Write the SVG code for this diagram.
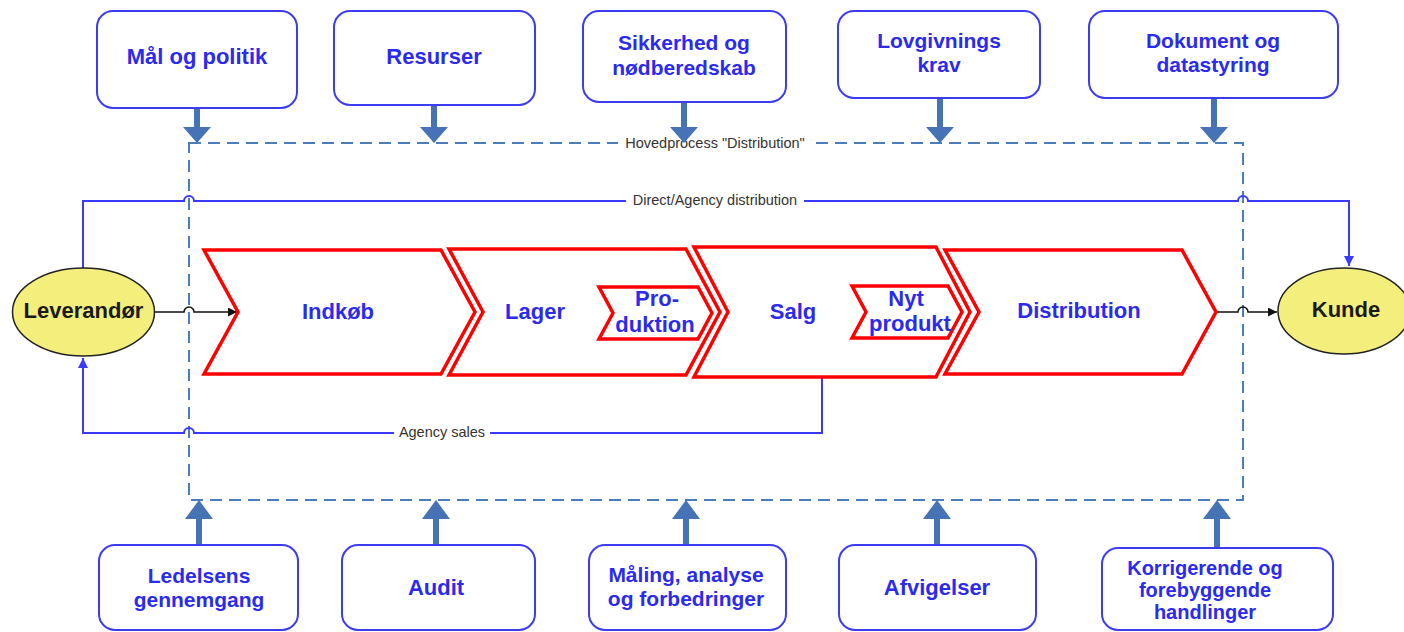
<svg xmlns="http://www.w3.org/2000/svg" width="1404" height="632" viewBox="0 0 1404 632">
<style>
.box{fill:#fff;stroke:#3c3cf5;stroke-width:2}
.bt{font-family:"Liberation Sans",Arial,sans-serif;font-weight:bold;font-size:22px;fill:#2a2af0;text-anchor:middle}
.b2{font-size:21px}
.chev{fill:#fff;stroke:#ff0000;stroke-width:3.5;stroke-linejoin:miter}
.ell{fill:#f4ef7c;stroke:#222;stroke-width:1.5}
.et{font-family:"Liberation Sans",Arial,sans-serif;font-weight:bold;font-size:22px;fill:#1a1a1a;text-anchor:middle}
.dash{fill:none;stroke:#4a7dbc;stroke-width:2;stroke-dasharray:12 7}
.fat{fill:#4672b6}
.cb{fill:none;stroke:#3a3aff;stroke-width:2}
.ck{fill:none;stroke:#111;stroke-width:1.5}
.lbl{font-family:"Liberation Sans",Arial,sans-serif;font-size:14.5px;fill:#333;text-anchor:middle}
</style>
<defs>
<marker id="ab" viewBox="0 0 10 10" refX="10" refY="5" markerWidth="5" markerHeight="5" orient="auto" markerUnits="strokeWidth"><path d="M0,0 L10,5 L0,10 z" fill="#3a3aff"/></marker>
<marker id="ak" viewBox="0 0 10 10" refX="10" refY="5" markerWidth="6" markerHeight="6" orient="auto" markerUnits="strokeWidth"><path d="M0,0 L10,5 L0,10 z" fill="#111"/></marker>
</defs>
<rect width="1404" height="632" fill="#fff"/>

<g id="process-frame">
<rect class="dash" x="189" y="143" width="1054" height="357"/>
<rect x="618" y="134" width="194" height="18" fill="#fff"/>
<text class="lbl" x="715" y="148">Hovedprocess "Distribution"</text>
</g>

<g id="connectors">
<path class="cb" d="M83,268 V201 H184 A5,5 0 0 1 194,201 H1238 A5,5 0 0 1 1248,201 H1349 V266" marker-end="url(#ab)"/>
<rect x="626" y="192" width="178" height="18" fill="#fff"/>
<text class="lbl" x="715" y="205">Direct/Agency distribution</text>
<path class="cb" d="M822,377 V433 H194 A5,5 0 0 0 184,433 H83 V358" marker-end="url(#ab)"/>
<rect x="394" y="424" width="96" height="18" fill="#fff"/>
<text class="lbl" x="442" y="437">Agency sales</text>
<path class="ck" d="M155,312 H184 A5,5 0 0 1 194,312 H237" marker-end="url(#ak)"/>
<path class="ck" d="M1216,312 H1238 A5,5 0 0 1 1248,312 H1277" marker-end="url(#ak)"/>
<path class="fat" d="M194,108 h6 v19 h11 l-14,16 l-14,-16 h11 z"/>
<path class="fat" d="M431,105 h6 v22 h11 l-14,16 l-14,-16 h11 z"/>
<path class="fat" d="M681,102 h6 v25 h11 l-14,16 l-14,-16 h11 z"/>
<path class="fat" d="M937,98 h6 v29 h11 l-14,16 l-14,-16 h11 z"/>
<path class="fat" d="M1211,98 h6 v29 h11 l-14,16 l-14,-16 h11 z"/>
<path class="fat" d="M196,545 h6 v-26 h11 l-14,-19 l-14,19 h11 z"/>
<path class="fat" d="M433,545 h6 v-26 h11 l-14,-19 l-14,19 h11 z"/>
<path class="fat" d="M683,545 h6 v-26 h11 l-14,-19 l-14,19 h11 z"/>
<path class="fat" d="M934,545 h6 v-26 h11 l-14,-19 l-14,19 h11 z"/>
<path class="fat" d="M1214,548 h6 v-29 h11 l-14,-19 l-14,19 h11 z"/>
</g>

<g id="maal-og-politik"><rect class="box" x="97" y="11" width="200" height="97" rx="16"/><text class="bt" x="197" y="64">Mål og politik</text></g>
<g id="resurser"><rect class="box" x="334" y="11" width="201" height="94" rx="16"/><text class="bt" x="434" y="64">Resurser</text></g>
<g id="sikkerhed"><rect class="box" x="583" y="11" width="203" height="91" rx="16"/><text class="bt b2" x="684" y="50">Sikkerhed og</text><text class="bt b2" x="684" y="75">nødberedskab</text></g>
<g id="lovgivning"><rect class="box" x="838" y="11" width="202" height="87" rx="16"/><text class="bt b2" x="939" y="48">Lovgivnings</text><text class="bt b2" x="939" y="72">krav</text></g>
<g id="dokument"><rect class="box" x="1089" y="11" width="249" height="87" rx="16"/><text class="bt b2" x="1213" y="48">Dokument og</text><text class="bt b2" x="1213" y="72">datastyring</text></g>

<g id="leverandor"><ellipse class="ell" cx="83.5" cy="312" rx="71" ry="44"/><text class="et" x="83.5" y="318">Leverandør</text></g>
<g id="kunde"><ellipse class="ell" cx="1344" cy="311" rx="66" ry="43"/><text class="et" x="1346" y="317">Kunde</text></g>

<g id="indkob"><polygon class="chev" points="204,250 441,250 475,312 441,374 204,374 238,312"/><text class="bt" x="338" y="319">Indkøb</text></g>
<g id="lager"><polygon class="chev" points="449,249 686,249 720,312 686,375 449,375 483,312"/><text class="bt" x="535" y="319">Lager</text></g>
<g id="produktion"><polygon class="chev" points="599,287 698,287 712,313 698,339 599,339 613,313"/><text class="bt" x="657" y="306">Pro-</text><text class="bt" x="655" y="332">duktion</text></g>
<g id="salg"><polygon class="chev" points="694,247 936,247 970,312 936,377 694,377 728,312"/><text class="bt" x="793" y="319">Salg</text></g>
<g id="nyt-produkt"><polygon class="chev" points="852,286 948,286 962,312 948,338 852,338 866,312"/><text class="bt" x="906" y="306">Nyt</text><text class="bt" x="910" y="331">produkt</text></g>
<g id="distribution"><polygon class="chev" points="945,250 1182,250 1216,312 1182,374 945,374 979,312"/><text class="bt" x="1079" y="318">Distribution</text></g>

<g id="ledelsens"><rect class="box" x="99" y="545" width="199" height="85" rx="16"/><text class="bt b2" x="199" y="583">Ledelsens</text><text class="bt b2" x="199" y="607">gennemgang</text></g>
<g id="audit"><rect class="box" x="342" y="545" width="193" height="85" rx="16"/><text class="bt" x="436" y="595">Audit</text></g>
<g id="maaling"><rect class="box" x="589" y="545" width="197" height="85" rx="16"/><text class="bt b2" x="686" y="582">Måling, analyse</text><text class="bt b2" x="686" y="606">og forbedringer</text></g>
<g id="afvigelser"><rect class="box" x="839" y="545" width="197" height="85" rx="16"/><text class="bt" x="937" y="595">Afvigelser</text></g>
<g id="korrigerende"><rect class="box" x="1102" y="548" width="231" height="82" rx="16"/><text class="bt" x="1205" y="575" style="font-size:20px">Korrigerende og</text><text class="bt" x="1205" y="597" style="font-size:20px">forebyggende</text><text class="bt" x="1205" y="619" style="font-size:20px">handlinger</text></g>
</svg>
